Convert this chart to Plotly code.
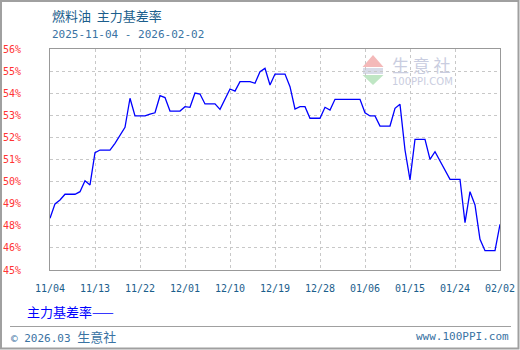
import plotly.graph_objects as go

# ---- data ----
dates = [
    "2025-11-04", "2025-11-05", "2025-11-06", "2025-11-07", "2025-11-09", "2025-11-10",
    "2025-11-11", "2025-11-12", "2025-11-13", "2025-11-14", "2025-11-16", "2025-11-17",
    "2025-11-19", "2025-11-20", "2025-11-21", "2025-11-23", "2025-11-24", "2025-11-25",
    "2025-11-26", "2025-11-27", "2025-11-28", "2025-11-30", "2025-12-01", "2025-12-02",
    "2025-12-03", "2025-12-04", "2025-12-05", "2025-12-07", "2025-12-08", "2025-12-10",
    "2025-12-11", "2025-12-12", "2025-12-14", "2025-12-15", "2025-12-16", "2025-12-17",
    "2025-12-18", "2025-12-19", "2025-12-21", "2025-12-22", "2025-12-23", "2025-12-24",
    "2025-12-25", "2025-12-26", "2025-12-28", "2025-12-29", "2025-12-30", "2025-12-31",
    "2026-01-05", "2026-01-06", "2026-01-07", "2026-01-08", "2026-01-09", "2026-01-11",
    "2026-01-12", "2026-01-13", "2026-01-14", "2026-01-15", "2026-01-16", "2026-01-18",
    "2026-01-19", "2026-01-20", "2026-01-23", "2026-01-25", "2026-01-26", "2026-01-27",
    "2026-01-28", "2026-01-29", "2026-01-30", "2026-02-01", "2026-02-02",
]
basis_rate = [
    47.86, 48.54, 48.73, 49.00, 49.00, 49.12,
    49.64, 49.44, 50.97, 51.10, 51.10, 51.42,
    52.18, 53.56, 52.72, 52.72, 52.81, 52.87,
    53.68, 53.59, 52.95, 52.95, 53.16, 53.13,
    53.81, 53.76, 53.29, 53.29, 53.03, 54.00,
    53.90, 54.35, 54.35, 54.27, 54.82, 54.98,
    54.19, 54.71, 54.71, 54.11, 53.05, 53.16,
    53.16, 52.61, 52.61, 53.13, 53.00, 53.51,
    53.51, 52.87, 52.72, 52.72, 52.24, 52.24,
    53.08, 53.27, 51.10, 49.68, 51.61, 51.61,
    50.66, 51.02, 49.71, 49.71, 47.65, 49.12,
    48.49, 46.86, 46.32, 46.32, 47.57,
]
x_tick_dates = ["2025-11-04", "2025-11-13", "2025-11-22", "2025-12-01", "2025-12-10",
                "2025-12-19", "2025-12-28", "2026-01-06", "2026-01-15", "2026-01-24",
                "2026-02-02"]
x_tick_labels = ["11/04", "11/13", "11/22", "12/01", "12/10", "12/19", "12/28",
                 "01/06", "01/15", "01/24", "02/02"]
y_tick_values = [45.4, 46.45, 47.5, 48.55, 49.6, 50.65, 51.7, 52.75, 53.8, 54.85, 55.9]
y_tick_labels = ["45%", "46%", "48%", "49%", "50%", "51%", "52%", "53%", "54%", "55%", "56%"]

title_text = "燃料油  主力基差率"
subtitle_text = "2025-11-04 - 2026-02-02"
series_name = "主力基差率"

# ---- layout geometry ----
W, H = 520, 350
ML, MR, MT, MB = 50, 20, 49, 80
PW, PH = W - ML - MR, H - MT - MB


def px(x):
    return (x - ML) / PW


def py(y):
    return 1 - (y - MT) / PH


fig = go.Figure()
fig.add_trace(go.Scatter(
    x=dates, y=basis_rate, mode="lines", name=series_name,
    line=dict(color="#0000ff", width=1.3), hoverinfo="x+y",
))

grid = dict(showgrid=True, gridcolor="#c8c8c8", gridwidth=1, griddash="3px,3px",
            showline=True, linecolor="#999999", linewidth=1, mirror=True,
            zeroline=False, ticks="", automargin=False)

fig.update_xaxes(
    type="date", range=[x_tick_dates[0], x_tick_dates[-1]],
    tickvals=x_tick_dates, ticktext=x_tick_labels,
    tickfont=dict(family="DejaVu Sans Mono", size=10, color="#1b5e8c"),
    ticklabelstandoff=9, **grid,
)
fig.update_yaxes(
    range=[y_tick_values[0], y_tick_values[-1]],
    tickvals=y_tick_values, ticktext=y_tick_labels,
    tickfont=dict(family="DejaVu Sans Mono", size=10, color="#ff3333"),
    ticklabelstandoff=26, **grid,
)

ann = []
ann.append(dict(x=px(50), y=py(15), xref="paper", yref="paper", text=title_text,
                showarrow=False, xanchor="left", yanchor="middle",
                font=dict(family="Noto Sans CJK SC", size=13, color="#1b5e8c")))
ann.append(dict(x=px(50), y=py(34), xref="paper", yref="paper", text=subtitle_text,
                showarrow=False, xanchor="left", yanchor="middle",
                font=dict(family="DejaVu Sans Mono", size=11, color="#3a73a3")))
ann.append(dict(x=px(25), y=py(311), xref="paper", yref="paper", text=series_name + "——",
                showarrow=False, xanchor="left", yanchor="middle",
                font=dict(family="Noto Sans CJK SC", size=13, color="#0000ff")))
ann.append(dict(x=px(9), y=py(336), xref="paper", yref="paper",
                text="© 2026.03 <span style='font-family:Noto Sans CJK SC;font-size:13px'>生意社</span>",
                showarrow=False, xanchor="left", yanchor="middle",
                font=dict(family="DejaVu Sans Mono", size=11, color="#3a73a3")))
ann.append(dict(x=px(511), y=py(336), xref="paper", yref="paper", text="www.100PPI.com",
                showarrow=False, xanchor="right", yanchor="middle",
                font=dict(family="DejaVu Sans Mono", size=11, color="#3a73a3")))
# watermark
ann.append(dict(x=px(421), y=py(64), xref="paper", yref="paper", text="生 意 社",
                showarrow=False, xanchor="center", yanchor="middle",
                font=dict(family="Noto Sans CJK SC", size=17, color="#c9cde0")))
ann.append(dict(x=px(422), y=py(81), xref="paper", yref="paper", text="100PPI.COM",
                showarrow=False, xanchor="center", yanchor="middle",
                font=dict(family="DejaVu Sans", size=10, color="#c9cde0")))

shapes = []
# outer border
shapes.append(dict(type="rect", xref="paper", yref="paper",
                   x0=px(1), x1=px(518.5), y0=py(1), y1=py(348.5),
                   line=dict(color="#a0a0a0", width=2), layer="below"))
# footer separator
shapes.append(dict(type="line", xref="paper", yref="paper",
                   x0=px(10), x1=px(511), y0=py(326.5), y1=py(326.5),
                   line=dict(color="#a0a0a0", width=1)))
# watermark logo
shapes.append(dict(type="path", xref="paper", yref="paper",
                   path=f"M {px(373)} {py(55)} L {px(383.5)} {py(67)} L {px(362.5)} {py(67)} Z",
                   fillcolor="#f4b9b9", line=dict(width=0), layer="below"))
shapes.append(dict(type="rect", xref="paper", yref="paper",
                   x0=px(363), x1=px(383), y0=py(68), y1=py(74),
                   fillcolor="#d8dbe8", line=dict(width=0), layer="below"))
shapes.append(dict(type="path", xref="paper", yref="paper",
                   path=f"M {px(362.5)} {py(75)} L {px(383.5)} {py(75)} L {px(373)} {py(85)} Z",
                   fillcolor="#bfe6c4", line=dict(width=0), layer="below"))

fig.update_layout(
    width=W, height=H,
    margin=dict(l=ML, r=MR, t=MT, b=MB, pad=0),
    paper_bgcolor="white", plot_bgcolor="white",
    showlegend=False,
    annotations=ann, shapes=shapes,
)

fig.write_html("out.html")
